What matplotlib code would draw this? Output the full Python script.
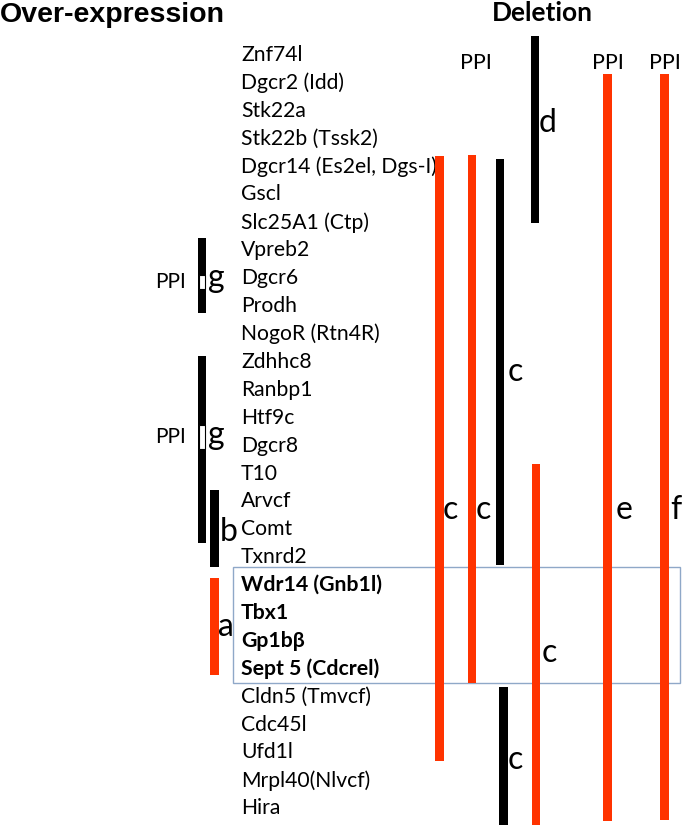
import matplotlib
matplotlib.use("Agg")
import matplotlib.pyplot as plt
from matplotlib.patches import Rectangle

# ---------------- data ----------------
genes = ["Znf74l", "Dgcr2 (Idd)", "Stk22a", "Stk22b (Tssk2)", "Dgcr14 (Es2el, Dgs-I)",
         "Gscl", "Slc25A1 (Ctp)", "Vpreb2", "Dgcr6", "Prodh", "NogoR (Rtn4R)",
         "Zdhhc8", "Ranbp1", "Htf9c", "Dgcr8", "T10", "Arvcf", "Comt", "Txnrd2",
         "Wdr14 (Gnb1l)", "Tbx1", "Gp1bβ", "Sept 5 (Cdcrel)",
         "Cldn5 (Tmvcf)", "Cdc45l", "Ufd1l", "Mrpl40(Nlvcf)", "Hira"]
bold_genes = ["Wdr14 (Gnb1l)", "Tbx1", "Gp1bβ", "Sept 5 (Cdcrel)"]

# bars: extent in gene-row units (0 = Znf74l ... 27 = Hira)
bar_start = [6.56, 10.79, 15.59, 18.75,              # over-expression
             3.62, 3.58, 3.73, -0.68, 14.66, 22.65, 0.68, 0.68]  # deletion
bar_end   = [9.25, 17.49, 18.35, 22.22,
             25.30, 22.51, 18.28, 6.02, 27.60, 27.60, 27.46, 27.42]
bar_kind  = ["black", "black", "black", "orange",
             "orange", "orange", "black", "black", "orange", "black", "orange", "orange"]
bar_label = ["g", "g", "b", "a", "c", "c", "c", "d", "c", "c", "e", "f"]
label_row = [8.0, 13.62, 17.1, 20.5, 16.31, 16.31, 11.36, 2.44, 21.43, 25.27, 16.31, 16.31]
ppi_bars  = [0, 1, 5, 10, 11]   # bars carrying a "PPI" mark
ppi_white = {0: (7.89, 8.39), 1: (13.26, 14.12)}  # open segments in g bars

# ---------------- layout ----------------
W, H = 683, 825
row0_px, row_px = 55.0, 27.9
bar_xc = [202, 202, 214.5, 214.5, 439.5, 472, 500, 535, 536, 503.5, 607.5, 664.5]
label_x = [208, 208, 220, 218, 443, 476, 508, 539, 542, 508, 616, 670]
bar_w = 8.5
colors = {"black": "#000000", "orange": "#FF3300"}

fig = plt.figure(figsize=(W / 100, H / 100), dpi=100)
ax = fig.add_axes([0, 0, 1, 1])
ax.set_xlim(0, W)
ax.set_ylim((H - row0_px) / row_px, -row0_px / row_px)
ax.axis("off")

FONT = "Lato"
fs = 15.2
fs_bold = 15.3

# gene labels
for i, g in enumerate(genes):
    isb = g in bold_genes
    ax.text(241, i, g, fontsize=fs_bold if isb else fs, family=FONT, va="center", ha="left",
            fontweight="bold" if isb else "normal", zorder=2)

# box around bold genes
i0 = genes.index(bold_genes[0])
i1 = genes.index(bold_genes[-1])
ax.add_patch(Rectangle((233, i0 - 0.65), 680 - 233, (i1 - i0) + 1.15,
                       fill=False, edgecolor="#8FA8C8", linewidth=1.0, zorder=1))

# bars
for k in range(len(bar_start)):
    ax.bar(bar_xc[k], bar_end[k] - bar_start[k], bottom=bar_start[k], width=bar_w,
           color=colors[bar_kind[k]], linewidth=0, zorder=3)
    ax.text(label_x[k], label_row[k], bar_label[k], fontsize=23, family=FONT,
            va="center", ha="left", zorder=4)

# white open segments in g bars
for k, (s, e) in ppi_white.items():
    ax.add_patch(Rectangle((bar_xc[k] - 2.6, s), 5.2, e - s, facecolor="white",
                           edgecolor="black", linewidth=0.8, zorder=5))

# PPI marks
for k in ppi_bars:
    if k in ppi_white:
        s, e = ppi_white[k]
        ax.text(186, (s + e) / 2, "PPI", fontsize=15, family=FONT, va="center", ha="right")
    else:
        ax.text(bar_xc[k] + (4 if k == 5 else 0), 0.29, "PPI", fontsize=15.5, family=FONT,
                va="center", ha="center")

# titles
fig.text(0.0, 1 - 15 / H, "Over-expression", fontsize=20.5, fontweight="bold",
         family="Liberation Sans", va="center", ha="left")
fig.text(542 / W, 1 - 13 / H, "Deletion", fontsize=19, fontweight="bold",
         family=FONT, va="center", ha="center")

fig.savefig("out.png", dpi=100)
